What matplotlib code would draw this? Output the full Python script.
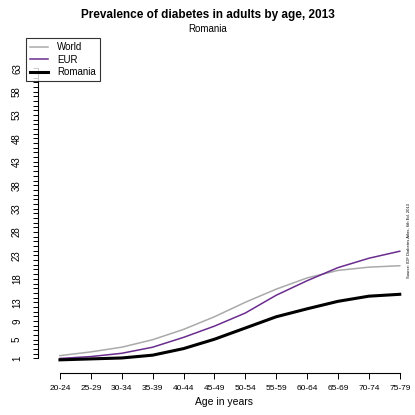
import numpy as np
import matplotlib
matplotlib.use("Agg")
import matplotlib.pyplot as plt

plt.rcParams['font.family'] = ['Liberation Sans', 'DejaVu Sans']

# age groups and prevalence (%)
age_groups = ["20-24", "25-29", "30-34", "35-39", "40-44", "45-49",
              "50-54", "55-59", "60-64", "65-69", "70-74", "75-79"]
world = [1.6, 2.4, 3.4, 5.0, 7.2, 9.9, 13.0, 15.8, 18.2, 19.8, 20.5, 20.8]
eur = [1.0, 1.4, 2.1, 3.4, 5.5, 7.9, 10.7, 14.5, 17.6, 20.4, 22.4, 23.9]
romania = [0.7, 0.9, 1.1, 1.7, 3.1, 5.1, 7.5, 9.9, 11.6, 13.2, 14.3, 14.7]
ytick_labels = [1, 5, 9, 13, 18, 23, 28, 33, 38, 43, 48, 53, 58, 63]

fig = plt.figure(figsize=(4.15, 4.15), dpi=100)
ax = fig.add_axes([0.0916, 0.125, 0.894, 0.722])

x = np.arange(len(age_groups))
ax.plot(x, world, color="#aaaaaa", lw=1.1, label="World")
ax.plot(x, eur, color="#6a2c8e", lw=1.1, label="EUR")
ax.plot(x, romania, color="black", lw=2.2, label="Romania")

ax.set_xlim(-0.71, 11.3)
ax.set_ylim(0, 64)

# R-style axes
for side in ["top", "right"]:
    ax.spines[side].set_visible(False)
ax.spines["left"].set_bounds(1, 63)
ax.spines["bottom"].set_bounds(0, 11)
ax.spines["bottom"].set_position(("outward", 7))

ax.set_yticks(np.arange(1, 64), minor=True)
ax.set_yticks(ytick_labels)
ax.set_yticklabels([str(v) for v in ytick_labels], rotation=90, va="center", fontsize=7)
ax.tick_params(axis="y", which="both", length=3.5, width=0.7, pad=8)
ax.set_xticks(x)
ax.set_xticklabels(age_groups, fontsize=6)
ax.tick_params(axis="x", length=4, width=0.7, pad=5)

ax.set_xlabel("Age in years", fontsize=7.5, labelpad=3)

fig.text(0.5, 0.965, "Prevalence of diabetes in adults by age, 2013",
         ha="center", va="center", fontsize=8.5, fontweight="bold")
fig.text(0.5, 0.93, "Romania", ha="center", va="center", fontsize=7)
fig.text(0.985, 0.42, "Source: IDF Diabetes Atlas, 6th Ed. 2013",
         rotation=90, ha="center", va="center", fontsize=3)

leg = ax.legend(loc="upper left", bbox_to_anchor=(-0.045, 1.1), fontsize=7,
                frameon=True, fancybox=False, edgecolor="black",
                handlelength=1.8, handletextpad=1.0, borderpad=0.4,
                labelspacing=0.25)
leg.get_frame().set_linewidth(0.8)

fig.savefig("out.png", dpi=100)
